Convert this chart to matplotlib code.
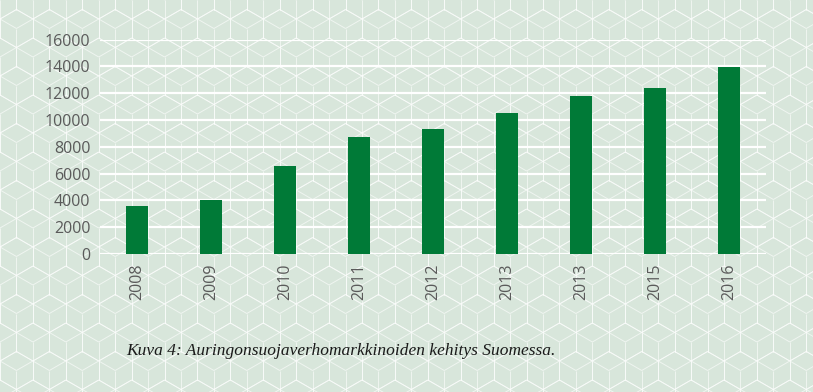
import numpy as np
import matplotlib.pyplot as plt
from matplotlib.collections import LineCollection

years = ["2008", "2009", "2010", "2011", "2012", "2013", "2013", "2015", "2016"]
values = [3550, 4000, 6550, 8750, 9350, 10550, 11750, 12350, 13950]
yticks = [0, 2000, 4000, 6000, 8000, 10000, 12000, 14000, 16000]
caption = "Kuva 4: Auringonsuojaverhomarkkinoiden kehitys Suomessa."

bg = "#d8e6db"
bar_color = "#007a37"
text_color = "#5a5a5a"

W, H = 813, 392
fig = plt.figure(figsize=(W / 100, H / 100), dpi=100)
fig.patch.set_facecolor(bg)

# background cube pattern
bgax = fig.add_axes([0, 0, 1, 1], zorder=0)
bgax.set_xlim(0, W)
bgax.set_ylim(H, 0)
bgax.axis("off")
r = 19.0
dx = np.sqrt(3) * r
dy = 1.5 * r
segs = []
ang = np.deg2rad([30, 90, 150, 210, 270, 330])
for row in range(-1, int(H / dy) + 3):
    for col in range(-1, int(W / dx) + 3):
        cx = col * dx + (dx / 2 if row % 2 else 0)
        cy = row * dy
        vx = cx + r * np.cos(ang)
        vy = cy - r * np.sin(ang)
        for k in range(6):
            segs.append([(vx[k], vy[k]), (vx[(k + 1) % 6], vy[(k + 1) % 6])])
        for k in (0, 2, 4):
            segs.append([(cx, cy), (vx[k], vy[k])])
bgax.add_collection(LineCollection(segs, colors="white", linewidths=0.7, alpha=0.6))

ax = fig.add_axes([100 / W, 1 - 254 / H, 666 / W, (254 - 39.5) / H], zorder=1)
ax.set_facecolor("none")
x = np.arange(len(years))
ax.bar(x, values, width=0.31, color=bar_color, zorder=3)
ax.set_xlim(-0.5, len(years) - 0.5)
ax.set_ylim(0, 16000)
ax.set_yticks(yticks)
ax.set_yticklabels([str(v) for v in yticks], fontsize=11.5, color=text_color, family="Open Sans")
ax.set_xticks(x)
ax.set_xticklabels(years, rotation=90, fontsize=11.5, color=text_color, family="Open Sans")
ax.grid(axis="y", color="white", linewidth=1.6, zorder=1)
ax.set_axisbelow(True)
for s in ax.spines.values():
    s.set_visible(False)
ax.tick_params(length=0, pad=7)

fig.text(126 / W, 1 - 351 / H, caption, fontsize=12.5, style="italic",
         family="Liberation Serif", color="#1a1a1a", va="center", ha="left")

fig.savefig("out.png", dpi=100, facecolor=bg)
